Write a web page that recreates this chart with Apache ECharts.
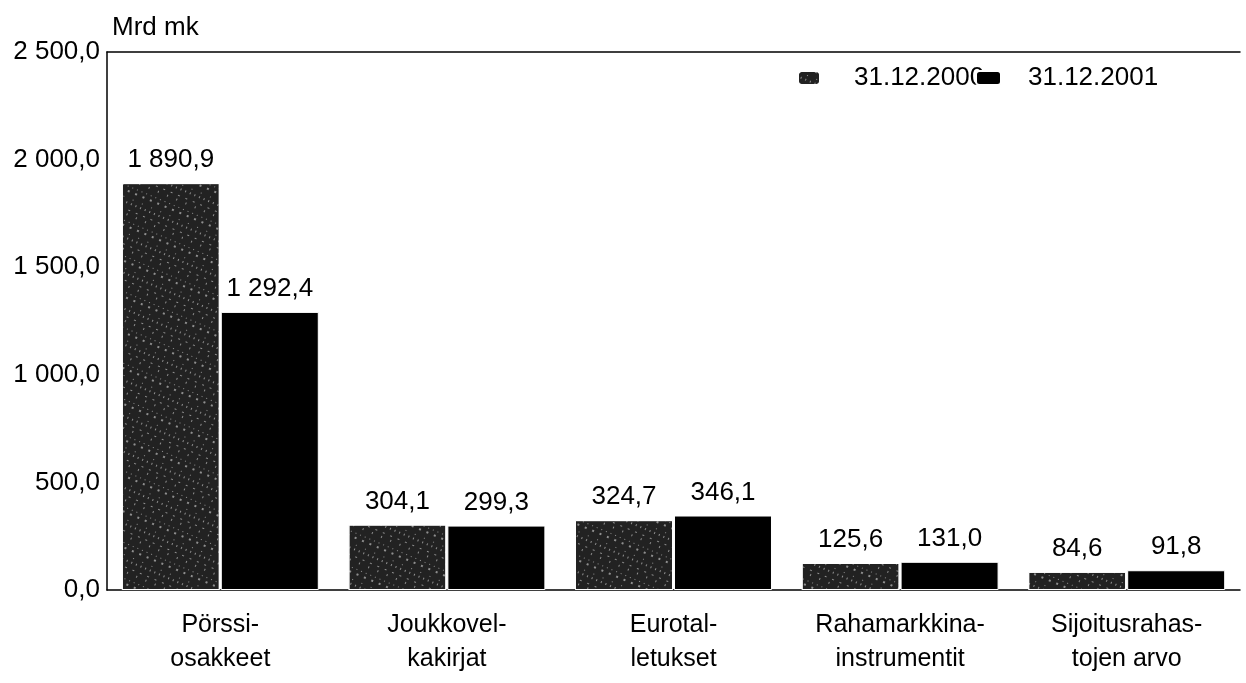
<!DOCTYPE html>
<html>
<head>
<meta charset="utf-8">
<script src="https://cdn.jsdelivr.net/npm/echarts@6/dist/echarts.min.js"></script>
<style>
html,body{margin:0;padding:0;background:#fff;}
#chart{width:1246px;height:683px;}
</style>
</head>
<body>
<div id="chart"></div>
<script>
const categories = ["Pörssi-\nosakkeet", "Joukkovel-\nkakirjat", "Eurotal-\nletukset", "Rahamarkkina-\ninstrumentit", "Sijoitusrahas-\ntojen arvo"];
const seriesNames = ["31.12.2000", "31.12.2001"];
const values2000 = [1890.9, 304.1, 324.7, 125.6, 84.6];
const values2001 = [1292.4, 299.3, 346.1, 131.0, 91.8];
const yTicks = { min: 0, max: 2500, interval: 500 };
const unitLabel = "Mrd mk";

function fmt(v) {
  const s = Number(v).toFixed(1);
  const parts = s.split('.');
  const intPart = parts[0].replace(/\B(?=(\d{3})+(?!\d))/g, ' ');
  return intPart + ',' + parts[1];
}

const FONT = 'Liberation Sans, Arial, sans-serif';
const legendBase = {
  top: 65, padding: 0,
  itemHeight: 14,
  textStyle: { fontFamily: FONT, fontSize: 26, color: '#000' }
};
const chart = echarts.init(document.getElementById('chart'));
chart.setOption({
  animation: false,
  backgroundColor: '#fff',
  textStyle: { fontFamily: FONT, color: '#000' },
  title: {
    text: unitLabel, left: 107, top: 10,
    textStyle: { fontFamily: FONT, fontSize: 26, fontWeight: 'normal', color: '#000' }
  },
  legend: [
    Object.assign({}, legendBase, {
      data: [seriesNames[0]], left: 797, itemWidth: 22,
      textStyle: Object.assign({}, legendBase.textStyle, { padding: [0, 0, 0, 29] })
    }),
    Object.assign({}, legendBase, {
      data: [seriesNames[1]], left: 975, itemWidth: 25, z: 10,
      textStyle: Object.assign({}, legendBase.textStyle, { padding: [0, 0, 0, 22] })
    })
  ],
  grid: { left: 107, right: 6, top: 52, bottom: 93, containLabel: false },
  xAxis: [{
    type: 'category', data: categories,
    axisLine: { show: true, lineStyle: { color: '#000', width: 1.5 } },
    axisTick: { show: false },
    axisLabel: { fontFamily: FONT, fontSize: 25, color: '#000', lineHeight: 34, margin: 18, interval: 0 }
  }, {
    type: 'category', data: categories, position: 'top',
    axisLine: { show: true, onZero: false, lineStyle: { color: '#000', width: 1.5 } },
    axisTick: { show: false }, axisLabel: { show: false }
  }],
  yAxis: {
    type: 'value', min: yTicks.min, max: yTicks.max, interval: yTicks.interval,
    axisLine: { show: true, lineStyle: { color: '#000', width: 1.5 } },
    axisTick: { show: false },
    splitLine: { show: false },
    axisLabel: { fontFamily: FONT, fontSize: 26, color: '#000', margin: 7, formatter: fmt }
  },
  series: [{
    name: seriesNames[0], type: 'bar', data: values2000,
    barWidth: 98, barGap: '1%',
    itemStyle: {
      color: '#222', borderColor: '#fff', borderWidth: 1,
      decal: {
        symbol: 'rect', color: 'rgba(255,255,255,0.55)', symbolSize: 0.9,
        dashArrayX: [[1, 4], [2, 6], [1, 9]], dashArrayY: [1, 3, 2, 5], rotation: 0.4
      }
    },
    label: { show: true, position: 'top', distance: 10, fontFamily: FONT, fontSize: 26, color: '#000', formatter: p => fmt(p.value) }
  }, {
    name: seriesNames[1], type: 'bar', data: values2001,
    barWidth: 98,
    itemStyle: { color: '#000', borderColor: '#fff', borderWidth: 1 },
    label: { show: true, position: 'top', distance: 10, fontFamily: FONT, fontSize: 26, color: '#000', formatter: p => fmt(p.value) }
  }]
});
</script>
</body>
</html>
